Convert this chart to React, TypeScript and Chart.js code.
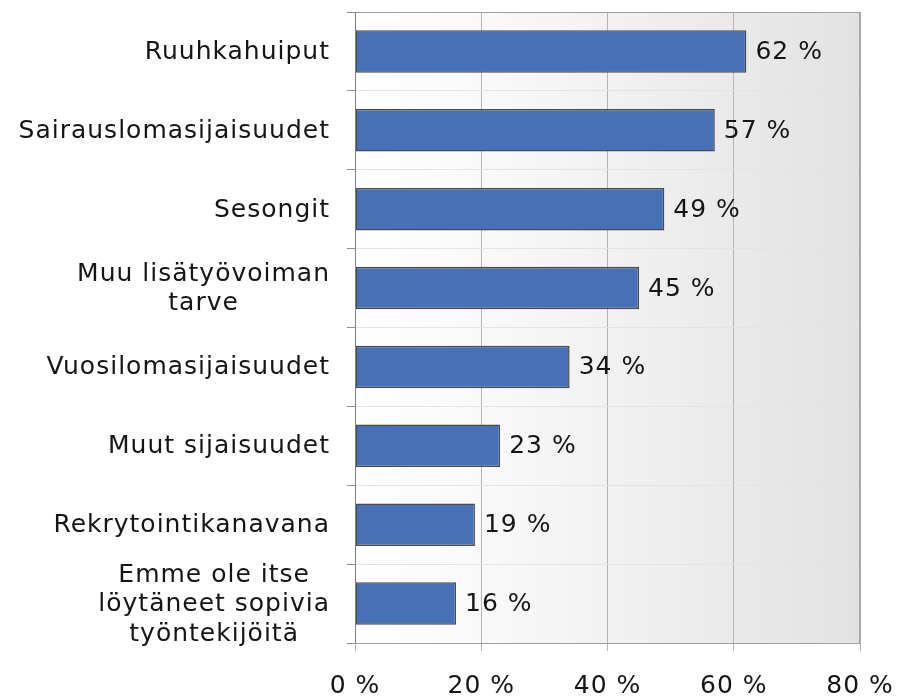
import React, { useEffect, useRef } from "react";
import { Chart, registerables } from "chart.js";

Chart.register(...registerables);

const categories: (string | string[])[] = [
  "Ruuhkahuiput",
  "Sairauslomasijaisuudet",
  "Sesongit",
  ["Muu lisätyövoiman", "tarve"],
  "Vuosilomasijaisuudet",
  "Muut sijaisuudet",
  "Rekrytointikanavana",
  ["Emme ole itse", "löytäneet sopivia", "työntekijöitä"],
];
const values = [62, 57, 49, 45, 34, 23, 19, 16];
const xTicks = [0, 20, 40, 60, 80];

const FONT = "DejaVu Sans";

export default function App() {
  const ref = useRef<HTMLCanvasElement | null>(null);
  useEffect(() => {
    document.body.style.margin = "0";
    const canvas = ref.current!;
    const bgPlugin = {
      id: "bg",
      beforeDraw(chart: any) {
        const { ctx, chartArea } = chart;
        (ctx as any).letterSpacing = "1px";
        const g = ctx.createLinearGradient(chartArea.left, 0, chartArea.right, 0);
        g.addColorStop(0, "#ffffff");
        g.addColorStop(0.3, "#f8f8f8");
        g.addColorStop(1, "#e2e2e2");
        ctx.save();
        ctx.fillStyle = g;
        ctx.fillRect(chartArea.left, chartArea.top, chartArea.right - chartArea.left, chartArea.bottom - chartArea.top);
        ctx.restore();
      },
      afterDraw(chart: any) {
        const { ctx, chartArea } = chart;
        ctx.save();
        ctx.strokeStyle = "#a0a0a0";
        ctx.lineWidth = 1;
        ctx.strokeRect(chartArea.left + 0.5, chartArea.top + 0.5, chartArea.right - chartArea.left - 1, chartArea.bottom - chartArea.top);
        ctx.strokeStyle = "#808080";
        ctx.beginPath();
        ctx.moveTo(chartArea.left + 0.5, chartArea.top);
        ctx.lineTo(chartArea.left + 0.5, chartArea.bottom);
        ctx.stroke();
        (ctx as any).letterSpacing = "1px";
        ctx.fillStyle = "#151515";
        // value labels
        const meta = chart.getDatasetMeta(0);
        ctx.font = `25px "${FONT}"`;
        ctx.textAlign = "left";
        ctx.textBaseline = "middle";
        meta.data.forEach((bar: any, i: number) => {
          ctx.fillText(values[i] + " %", bar.x + 9, bar.y + 1);
        });
        // category labels
        const yScale = chart.scales.y;
        const lineH = 29.5;
        ctx.textAlign = "center";
        categories.forEach((c, i) => {
          const lines = Array.isArray(c) ? c : [c];
          const widest = Math.max(...lines.map((l) => ctx.measureText(l).width));
          const cx = chartArea.left - 25 - widest / 2;
          const cy = yScale.getPixelForTick(i);
          lines.forEach((l, j) => {
            const y = cy + (j - (lines.length - 1) / 2) * lineH;
            ctx.fillText(l, cx, y + 1);
          });
        });
        ctx.restore();
      },
    };
    const chart = new Chart(canvas, {
      type: "bar",
      data: {
        labels: categories as any,
        datasets: [
          {
            data: values,
            backgroundColor: "#4870b6",
            borderColor: "#4a4a4a",
            borderWidth: 1.5,
            borderSkipped: false,
            barPercentage: 0.54,
            categoryPercentage: 1,
          },
        ],
      },
      options: {
        indexAxis: "y",
        responsive: false,
        animation: false,
        layout: { padding: { top: 12, right: 39, left: 0, bottom: 0 } },
        plugins: { legend: { display: false }, tooltip: { enabled: false } },
        scales: {
          x: {
            min: 0,
            max: 80,
            afterBuildTicks(scale: any) {
              scale.ticks = xTicks.map((v) => ({ value: v }));
            },
            afterFit(scale: any) {
              scale.height = 54;
              scale.paddingLeft = 0;
              scale.paddingRight = 0;
            },
            grid: { color: "#b4b4b4", tickColor: "#b4b4b4", tickLength: 8, lineWidth: 1 },
            border: { display: true, color: "#a0a0a0" },
            ticks: {
              padding: 20,
              color: "#151515",
              font: { family: FONT, size: 25 },
              maxRotation: 0,
              callback: (v: any) => v + " %",
            },
          },
          y: {
            afterFit(scale: any) {
              scale.width = 355;
              scale.paddingTop = 0;
              scale.paddingBottom = 0;
            },
            grid: { color: "#e4e4e4", tickColor: "#909090", tickLength: 8, offset: true },
            border: { display: true, color: "#808080" },
            ticks: { display: false },
          },
        },
      },
      plugins: [bgPlugin],
    });
    return () => chart.destroy();
  }, []);
  return (
    <div style={{ width: 899, height: 697 }}>
      <canvas ref={ref} width={899} height={697} style={{ display: "block" }} />
    </div>
  );
}
